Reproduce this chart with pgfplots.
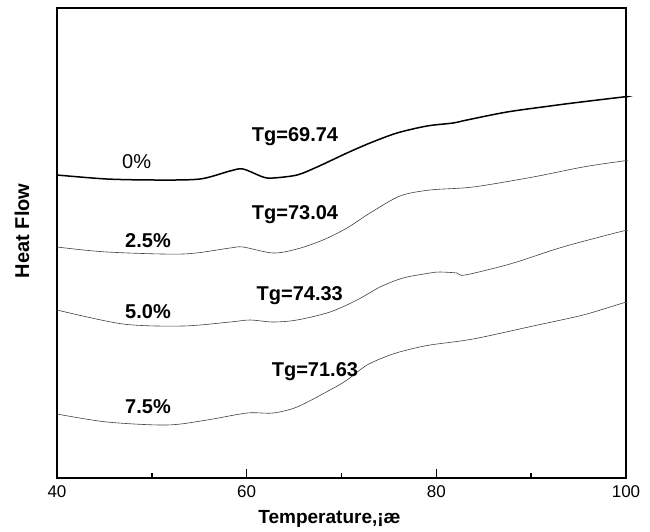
\documentclass[border=0pt]{standalone}
\usepackage{pgfplots}
\pgfplotsset{compat=1.18}
\usepackage{fontspec}
\setmainfont{Liberation Sans}
\begin{document}
\begin{tikzpicture}
\begin{axis}[
  scale only axis, width=569pt, height=470pt,
  xmin=40, xmax=100, ymin=0, ymax=470,
  xtick={40,60,80,100}, minor xtick={50,70,90},
  ytick=\empty, minor ytick={231},
  xtick pos=bottom, ytick pos=left, tick align=inside,
  major tick length=9pt, minor tick length=5pt,
  every tick/.style={line width=1.6pt, black},
  axis line style={line width=2.2pt},
  xticklabel style={font=\fontsize{17}{20}\selectfont, yshift=-4pt},
  /pgf/number format/assume math mode=true,
  xlabel={\bfseries Temperature,¡æ},
  ylabel={\bfseries Heat Flow},
  xlabel style={font=\fontsize{19}{21}\selectfont, at={(axis description cs:0.5,0)}, anchor=center, yshift=-41pt, xshift=-12pt},
  ylabel style={font=\fontsize{20}{22}\selectfont, at={(axis description cs:-0.0615,0.526)}, anchor=center},
  clip=false,
]
% 0%
\addplot[black, line width=1.5pt, smooth, tension=0.5] coordinates {
(40,303) (45.27,299) (50.55,298) (55.08,299) (58.24,307) (59.61,309) (61.72,301) (62.78,300) (65.31,303) (67.42,311) (70.58,325) (73.01,335) (75.85,345) (79.02,352) (81.76,355) (83.23,358) (87.45,366) (91.99,372) (94.41,375) (99.69,381) (100,381)};
% 2.5%
\addplot[black!75, line width=0.6pt, smooth, tension=0.5] coordinates {
(40,231) (45.27,226) (53.29,224) (58.24,230) (59.61,231) (62.78,225) (65.31,229) (68.05,238) (70.58,250) (73.01,265) (76.17,282) (79.33,288) (83.87,291) (90.2,301) (95.47,311) (99.69,317) (100,317)};
% 5.0%
\addplot[black!75, line width=0.6pt, smooth, tension=0.5] coordinates {
(40,168) (46.96,154) (53.29,152) (58.24,156) (60.35,158) (62.78,156) (65.31,158) (68.79,166) (71.64,178) (74.06,191) (76.49,200) (79.33,205) (80.39,206) (82.18,205) (83.02,203) (87.77,214) (92.3,228) (94.83,235) (99.69,247) (100,247)};
% 7.5%
\addplot[black!75, line width=0.6pt, smooth, tension=0.5] coordinates {
(40,64) (45.27,56) (51.6,53) (55.82,58) (60.04,65) (62.78,65) (65.31,71) (68.79,88) (70.58,98) (72.69,113) (75.12,123) (76.91,128) (79.33,133) (83.87,139) (90.2,152) (95.47,163) (99.69,175) (100,175)};
\node[font=\fontsize{20}{22}\selectfont] at (axis cs:48.4,316) {0\%};
\node[font=\bfseries\fontsize{20}{22}\selectfont] at (axis cs:65.1,341) {Tg=69.74};
\node[font=\bfseries\fontsize{20}{22}\selectfont] at (axis cs:49.6,237) {2.5\%};
\node[font=\bfseries\fontsize{20}{22}\selectfont] at (axis cs:65.1,263) {Tg=73.04};
\node[font=\bfseries\fontsize{20}{22}\selectfont] at (axis cs:49.6,166) {5.0\%};
\node[font=\bfseries\fontsize{20}{22}\selectfont] at (axis cs:65.6,182) {Tg=74.33};
\node[font=\bfseries\fontsize{20}{22}\selectfont] at (axis cs:49.6,71) {7.5\%};
\node[font=\bfseries\fontsize{20}{22}\selectfont] at (axis cs:67.2,106) {Tg=71.63};
\end{axis}
\path (current axis.south west) ++(-57pt,-53pt);
\path (current axis.north east) ++(24pt,8pt);
\end{tikzpicture}
\end{document}
